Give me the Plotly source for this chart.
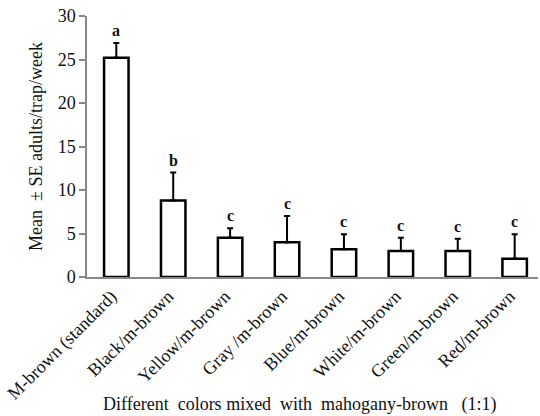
import plotly.graph_objects as go

categories = ["M-brown (standard)", "Black/m-brown", "Yellow/m-brown", "Gray /m-brown",
              "Blue/m-brown", "White/m-brown", "Green/m-brown", "Red/m-brown"]
means = [25.2, 8.8, 4.5, 4.0, 3.2, 3.0, 3.0, 2.1]
se = [1.7, 3.2, 1.1, 3.0, 1.7, 1.5, 1.4, 2.8]
letters = ["a", "b", "c", "c", "c", "c", "c", "c"]
y_ticks = [0, 5, 10, 15, 20, 25, 30]

FONT = "Liberation Serif, Times New Roman, serif"
x = list(range(len(categories)))

fig = go.Figure()
fig.add_trace(go.Bar(
    x=x, y=means, width=0.43,
    marker=dict(color="white", line=dict(color="black", width=2.5)),
    error_y=dict(type="data", symmetric=False, array=se, arrayminus=[0]*len(se),
                 color="black", thickness=2, width=3),
))

for xi, m, s, l in zip(x, means, se, letters):
    fig.add_annotation(x=xi, y=m + s, text="<b>" + l + "</b>", showarrow=False,
                       yanchor="bottom", yshift=2, font=dict(family=FONT, size=16, color="#111"))

fig.add_annotation(xref="paper", yref="paper", x=0.472, y=0, yshift=-127,
                   text="Different\u00a0 colors mixed\u00a0 with\u00a0 mahogany-brown\u00a0\u00a0 (1:1)",
                   showarrow=False, xanchor="center", yanchor="middle",
                   font=dict(family=FONT, size=18, color="#111"))

fig.update_layout(
    width=540, height=416,
    margin=dict(l=87, r=2, t=16, b=139),
    paper_bgcolor="white", plot_bgcolor="white",
    showlegend=False,
    font=dict(family=FONT, color="#111"),
    xaxis=dict(
        range=[-0.515, 7.41], tickmode="array", tickvals=x, ticktext=categories,
        tickangle=-45, showline=True, linecolor="#888", linewidth=1.5,
        ticks="", showgrid=False, zeroline=False, automargin=False,
        ticklabelshift=-5, ticklabeloverflow="allow",
        tickfont=dict(family=FONT, size=18, color="#111"),
    ),
    yaxis=dict(
        range=[0, 30], tickmode="array", tickvals=y_ticks,
        showline=True, linecolor="#888", linewidth=1.5,
        ticks="outside", ticklen=6, tickcolor="#888", tickwidth=1.5,
        showgrid=False, zeroline=False, automargin=False,
        tickfont=dict(family=FONT, size=18, color="#111"),
        title=dict(text="Mean\u00a0 \u00b1 SE adults/trap/week", font=dict(family=FONT, size=18, color="#111"),
                   standoff=10),
    ),
)

fig.write_html("out.html", config={"displayModeBar": False},
               post_script="document.body.style.margin='0';document.body.style.padding='0';document.body.style.overflow='hidden';")
